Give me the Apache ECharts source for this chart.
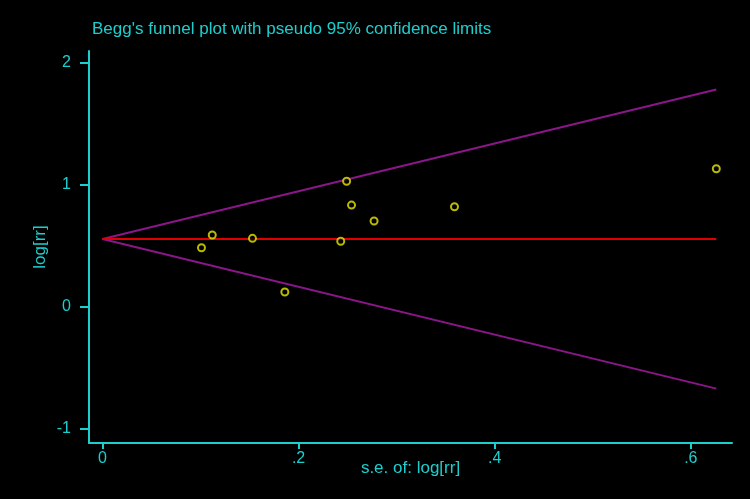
<!DOCTYPE html>
<html>
<head>
<meta charset="utf-8">
<script src="https://cdn.jsdelivr.net/npm/echarts@6/dist/echarts.min.js"></script>
<style>html,body{margin:0;padding:0;background:#000;}#c{width:750px;height:499px;}</style>
</head>
<body>
<div id="c"></div>
<script>
// Study points: standard error of log[rr] and log[rr]
var seValues = [0.101, 0.112, 0.153, 0.186, 0.243, 0.249, 0.254, 0.277, 0.359, 0.626];
var logRR    = [0.484, 0.588, 0.561, 0.121, 0.537, 1.029, 0.834, 0.703, 0.820, 1.132];
// Pooled estimate line and pseudo 95% limits (endpoints)
var pooledLine = [[0, 0.555], [0.626, 0.555]];
var upperLimit = [[0, 0.555], [0.626, 1.782]];
var lowerLimit = [[0, 0.555], [0.626, -0.672]];
var xTicks = [0, 0.2, 0.4, 0.6];
var yTicks = [-1, 0, 1, 2];

var cyan = '#1ccfcf';
var font = 'Liberation Sans, Arial, sans-serif';
var points = seValues.map(function (s, i) { return [s, logRR[i]]; });
var fmt = function (v) {
  var s = String(Math.round(v * 10) / 10);
  return s.replace(/^0\./, '.').replace(/^-0\./, '-.');
};
var chart = echarts.init(document.getElementById('c'));
chart.setOption({
  backgroundColor: '#000',
  animation: false,
  title: {
    text: "Begg's funnel plot with pseudo 95% confidence limits",
    left: 87, top: 16,
    textStyle: { color: cyan, fontSize: 17, fontWeight: 'normal', fontFamily: font }
  },
  grid: { left: 89, right: 18, top: 51, bottom: 56, containLabel: false },
  xAxis: {
    type: 'value', min: -0.0137, max: 0.642,
    name: 's.e. of: log[rr]', nameLocation: 'middle', nameGap: 17, nameMoveOverlap: false,
    nameTextStyle: { color: cyan, fontSize: 17, fontFamily: font },
    axisLine: { show: true, onZero: false, lineStyle: { color: cyan, width: 2 } },
    axisTick: { show: true, length: 6, lineStyle: { color: cyan, width: 2 }, customValues: xTicks },
    axisLabel: { color: cyan, fontSize: 16, margin: 8, customValues: xTicks, formatter: fmt, fontFamily: font },
    splitLine: { show: false }
  },
  yAxis: {
    type: 'value', min: -1.118, max: 2.098,
    name: 'log[rr]', nameLocation: 'middle', nameGap: 40, nameRotate: 90, nameMoveOverlap: false,
    nameTextStyle: { color: cyan, fontSize: 17, fontFamily: font },
    axisLine: { show: true, onZero: false, lineStyle: { color: cyan, width: 2 } },
    axisTick: { show: true, length: 9, lineStyle: { color: cyan, width: 2 }, customValues: yTicks },
    axisLabel: { color: cyan, fontSize: 16, margin: 18, customValues: yTicks, formatter: fmt, fontFamily: font },
    splitLine: { show: false }
  },
  series: [
    { type: 'line', data: upperLimit, symbol: 'none', lineStyle: { color: '#8a168a', width: 2 }, z: 2 },
    { type: 'line', data: lowerLimit, symbol: 'none', lineStyle: { color: '#8a168a', width: 2 }, z: 2 },
    { type: 'line', data: pooledLine, symbol: 'none', lineStyle: { color: '#e00000', width: 2 }, z: 3 },
    { type: 'scatter', data: points, symbol: 'circle', symbolSize: 7,
      itemStyle: { color: '#000', borderColor: '#e8e800', borderWidth: 2 }, z: 4 }
  ]
});
</script>
</body>
</html>
